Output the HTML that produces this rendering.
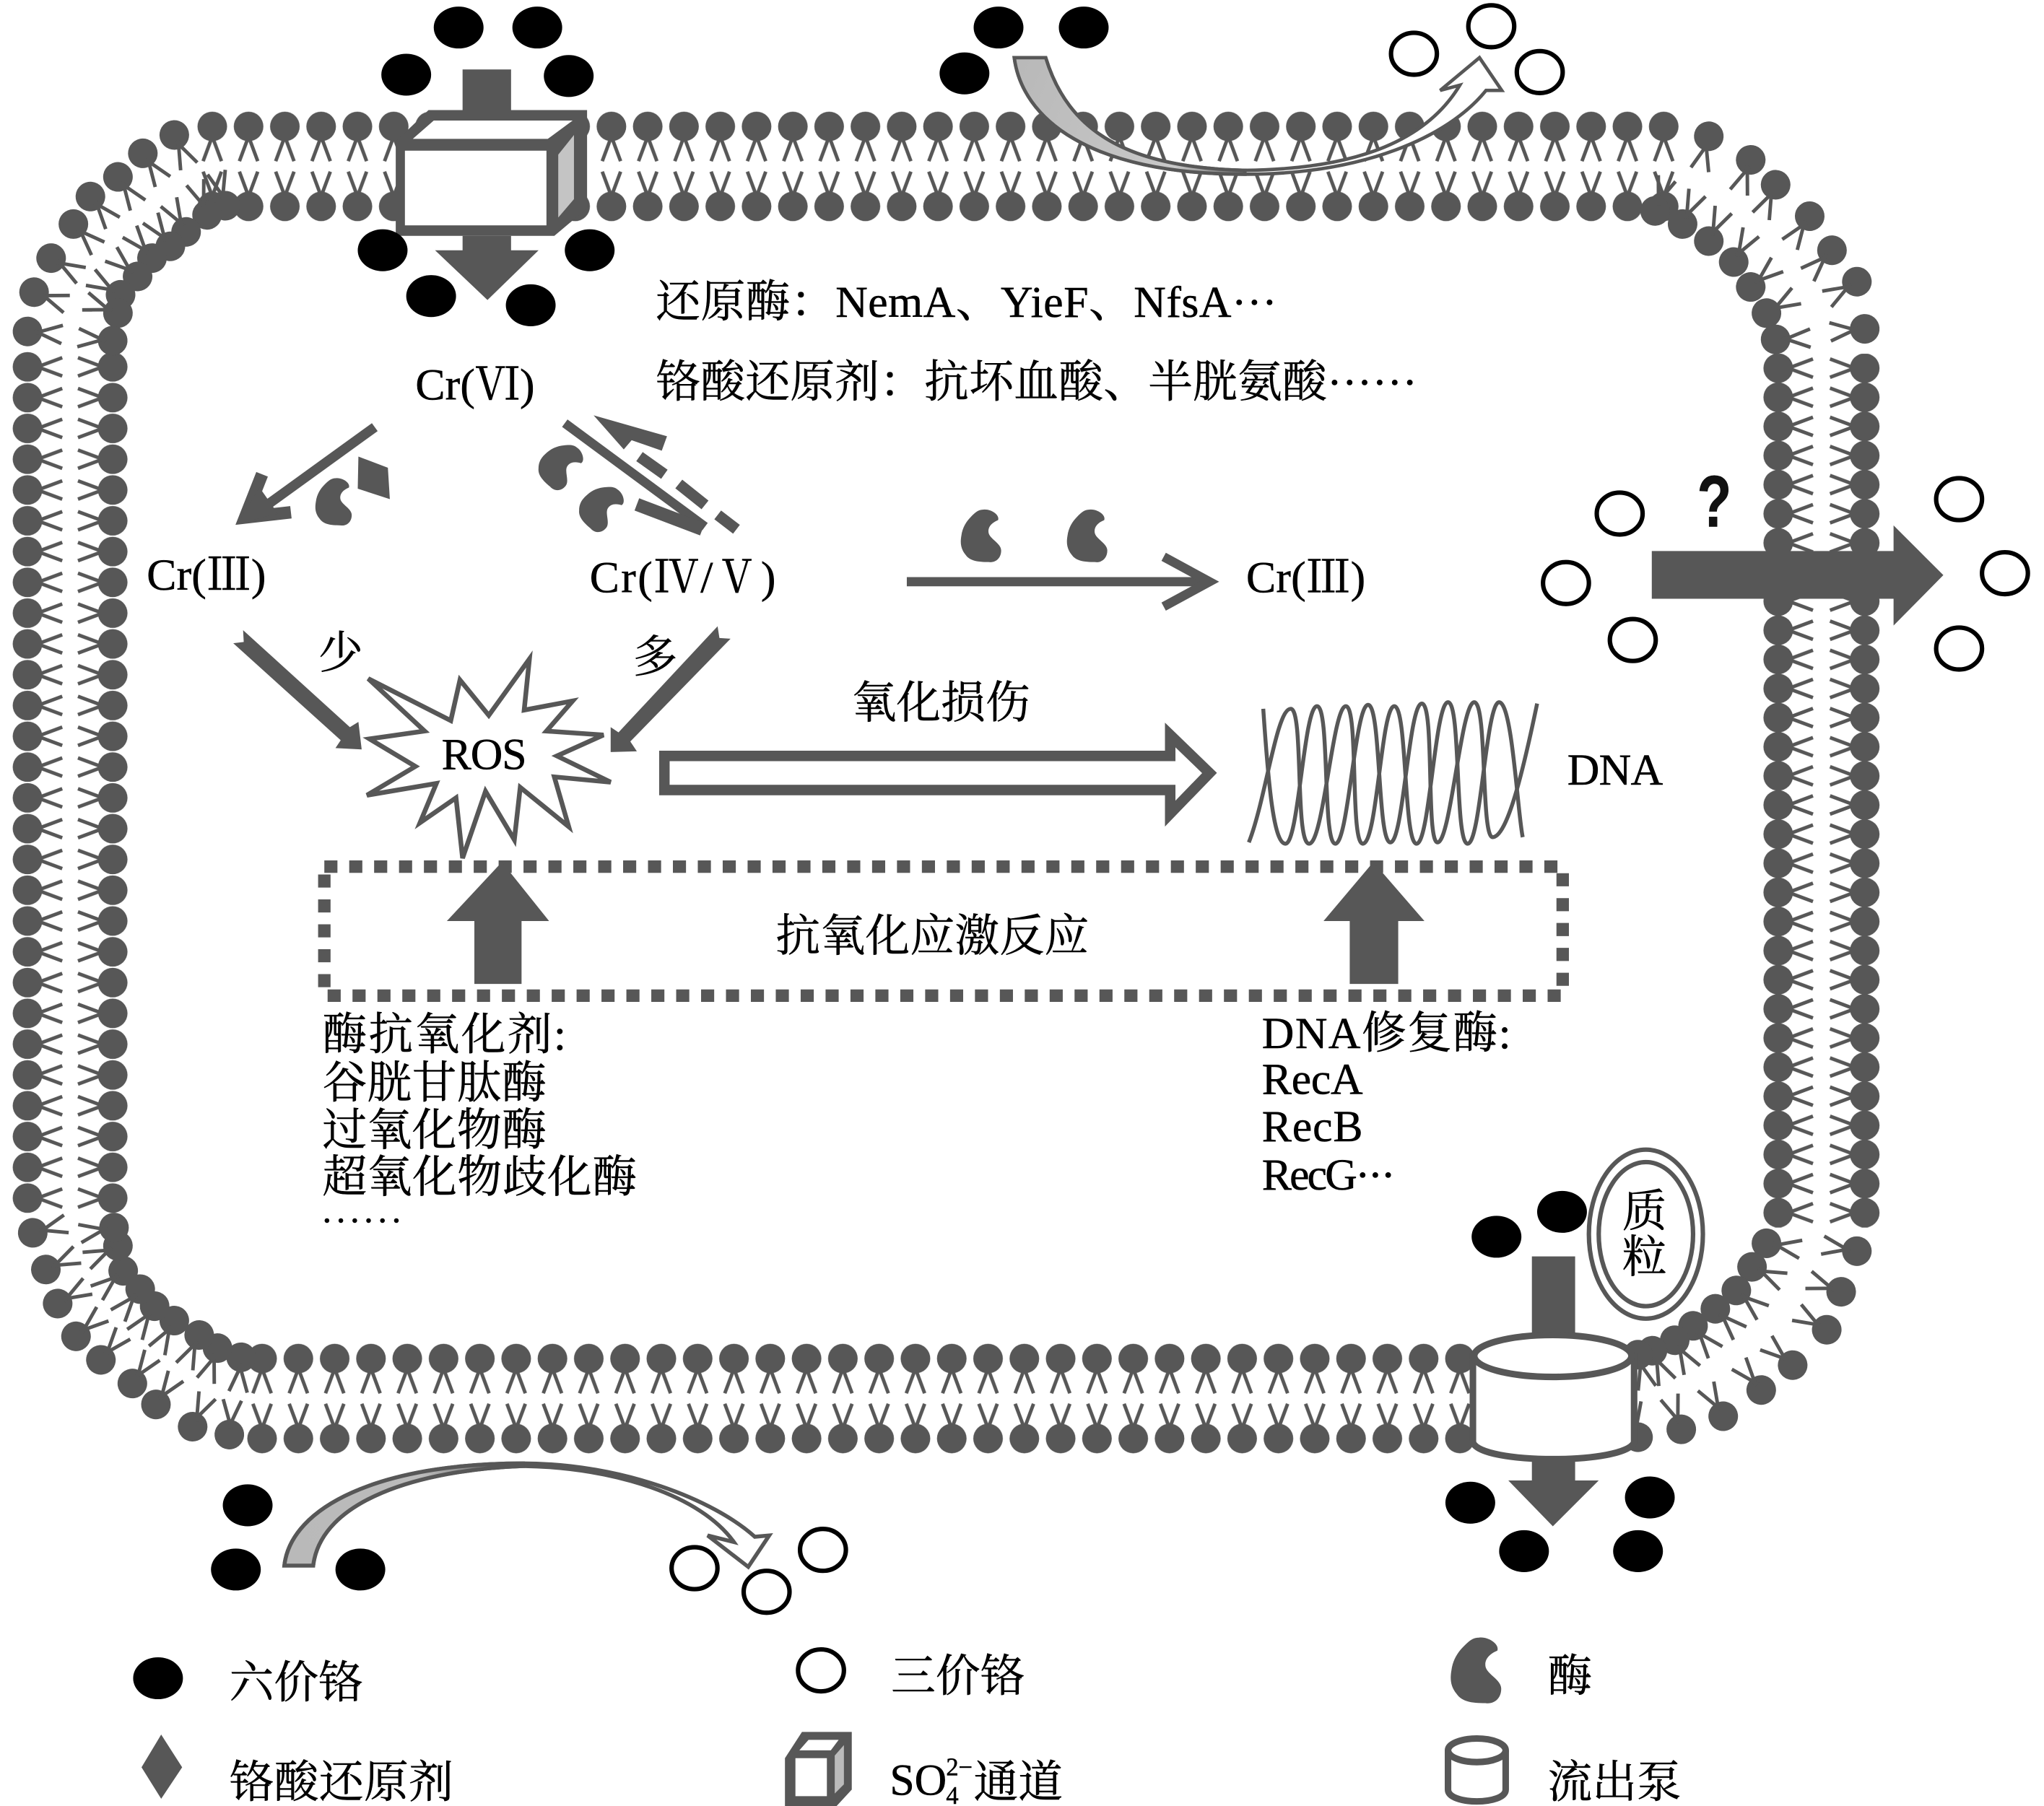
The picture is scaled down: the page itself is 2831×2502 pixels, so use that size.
<!DOCTYPE html>
<html lang="zh-CN"><head><meta charset="utf-8"><title>铬代谢示意图</title>
<style>
html,body{margin:0;padding:0;background:#fff}
svg{display:block;width:2831px;height:2502px}
text{font-family:"Liberation Serif","Noto Serif CJK SC",serif;font-size:34px;fill:#000;stroke:#000;stroke-width:.3}
</style></head><body>
<svg xmlns="http://www.w3.org/2000/svg" viewBox="0 0 1559.8 1378.5" width="2831" height="2502">
<defs>
<g id="L"><circle r="11.3" fill="#575757"/><path d="M-1,5 L7,26.5 M1,5 L-7,26.5" stroke="#575757" stroke-width="2.7" fill="none"/></g>
<g id="K"><ellipse rx="19" ry="16" fill="#000"/></g>
<g id="R"><ellipse rx="17.5" ry="16" fill="#fff" stroke="#000" stroke-width="3.4"/></g>
<path id="E" fill="#575757" d="M3,-25 C10,-26 19,-20 17,-15 C12,-13 7,-9 8,-3 C9,3 20,7 20,14 C20,22 14,26 8,25 C-2,25 -10,24 -14,18 C-19,12 -19,6 -18,0 C-17,-8 -13,-14 -9,-18 C-5,-22 -2,-25 3,-25 Z"/>
<pattern id="pT" patternUnits="userSpaceOnUse" x="148.15" y="80" width="27.69" height="100">
 <use href="#L" transform="translate(13.85 16.5)"/><use href="#L" transform="translate(13.85 77.5) rotate(180)"/></pattern>
<pattern id="pB" patternUnits="userSpaceOnUse" x="186.15" y="1020" width="27.7" height="100">
 <use href="#L" transform="translate(13.85 17)"/><use href="#L" transform="translate(13.85 78) rotate(180)"/></pattern>
<pattern id="pL" patternUnits="userSpaceOnUse" x="5" y="268.25" width="100" height="23.5">
 <use href="#L" transform="translate(16 11.75) rotate(-90)"/><use href="#L" transform="translate(81 11.75) rotate(90)"/></pattern>
<pattern id="pR" patternUnits="userSpaceOnUse" x="1340" y="269.9" width="100" height="22.23">
 <use href="#L" transform="translate(17 11.1) rotate(-90)"/><use href="#L" transform="translate(83 11.1) rotate(90)"/></pattern>
<linearGradient id="g1" gradientUnits="userSpaceOnUse" x1="780" y1="50" x2="960" y2="130"><stop offset="0" stop-color="#b9b9b9"/><stop offset=".7" stop-color="#c8c8c8"/><stop offset="1" stop-color="#555"/></linearGradient>
<linearGradient id="g2" gradientUnits="userSpaceOnUse" x1="225" y1="1190" x2="400" y2="1118"><stop offset="0" stop-color="#b9b9b9"/><stop offset=".6" stop-color="#bbb"/><stop offset="1" stop-color="#555"/></linearGradient>
</defs>
<rect width="1559.8" height="1378.5" fill="#fff"/>

<!-- membrane straight runs -->
<rect x="148" y="80" width="1134" height="100" fill="url(#pT)"/>
<rect x="186" y="1020" width="942" height="100" fill="url(#pB)"/>
<rect x="5" y="268" width="100" height="658" fill="url(#pL)"/>
<rect x="1340" y="270" width="100" height="667" fill="url(#pR)"/>

<!-- corners -->
<g>
<!-- TL outer -->
<use href="#L" transform="translate(133 103) rotate(-25)"/><use href="#L" transform="translate(109 117) rotate(-35)"/><use href="#L" transform="translate(90 135) rotate(-35)"/><use href="#L" transform="translate(69 150) rotate(-40)"/><use href="#L" transform="translate(56 171) rotate(-45)"/><use href="#L" transform="translate(39 197) rotate(-60)"/><use href="#L" transform="translate(26 223) rotate(-70)"/><use href="#L" transform="translate(21 253) rotate(-85)"/>
<!-- TL inner -->
<use href="#L" transform="translate(172 157) rotate(165)"/><use href="#L" transform="translate(158 164) rotate(160)"/><use href="#L" transform="translate(142 177) rotate(150)"/><use href="#L" transform="translate(130 188) rotate(145)"/><use href="#L" transform="translate(116 197) rotate(140)"/><use href="#L" transform="translate(105 211) rotate(130)"/><use href="#L" transform="translate(92 225) rotate(120)"/><use href="#L" transform="translate(90 239) rotate(110)"/><use href="#L" transform="translate(86 260) rotate(95)"/>
<!-- TR outer -->
<use href="#L" transform="translate(1304 104) rotate(15)"/><use href="#L" transform="translate(1336 122) rotate(20)"/><use href="#L" transform="translate(1355 141) rotate(25)"/><use href="#L" transform="translate(1381 165) rotate(35)"/><use href="#L" transform="translate(1398 191) rotate(45)"/><use href="#L" transform="translate(1417 215) rotate(60)"/><use href="#L" transform="translate(1423 251) rotate(85)"/>
<!-- TR inner -->
<use href="#L" transform="translate(1263 161) rotate(200)"/><use href="#L" transform="translate(1284 171) rotate(205)"/><use href="#L" transform="translate(1304 184) rotate(205)"/><use href="#L" transform="translate(1323 200) rotate(210)"/><use href="#L" transform="translate(1336 219) rotate(230)"/><use href="#L" transform="translate(1348 239) rotate(240)"/><use href="#L" transform="translate(1355 259) rotate(268)"/>
<!-- BL outer -->
<use href="#L" transform="translate(175 1095) rotate(185)"/><use href="#L" transform="translate(147 1089) rotate(205)"/><use href="#L" transform="translate(119 1072) rotate(215)"/><use href="#L" transform="translate(101 1056) rotate(215)"/><use href="#L" transform="translate(77 1038) rotate(220)"/><use href="#L" transform="translate(58 1020) rotate(230)"/><use href="#L" transform="translate(44 995) rotate(240)"/><use href="#L" transform="translate(35 969) rotate(245)"/><use href="#L" transform="translate(25 941) rotate(255)"/>
<!-- BL inner -->
<use href="#L" transform="translate(184 1036) rotate(5)"/><use href="#L" transform="translate(166 1029) rotate(20)"/><use href="#L" transform="translate(152 1019) rotate(25)"/><use href="#L" transform="translate(133 1008) rotate(30)"/><use href="#L" transform="translate(118 997) rotate(35)"/><use href="#L" transform="translate(107 984) rotate(40)"/><use href="#L" transform="translate(94 970) rotate(50)"/><use href="#L" transform="translate(90 951) rotate(65)"/><use href="#L" transform="translate(87 937) rotate(80)"/>
<!-- BR outer -->
<use href="#L" transform="translate(1417 955) rotate(100)"/><use href="#L" transform="translate(1405 986) rotate(110)"/><use href="#L" transform="translate(1394 1015) rotate(120)"/><use href="#L" transform="translate(1368 1042) rotate(130)"/><use href="#L" transform="translate(1344 1061) rotate(140)"/><use href="#L" transform="translate(1315 1081) rotate(150)"/><use href="#L" transform="translate(1283 1091) rotate(160)"/><use href="#L" transform="translate(1250 1097) rotate(170)"/>
<!-- BR inner -->
<use href="#L" transform="translate(1348 949) rotate(-80)"/><use href="#L" transform="translate(1337 967) rotate(-65)"/><use href="#L" transform="translate(1325 985) rotate(-50)"/><use href="#L" transform="translate(1309 999) rotate(-45)"/><use href="#L" transform="translate(1292 1012) rotate(-40)"/><use href="#L" transform="translate(1278 1023) rotate(-30)"/><use href="#L" transform="translate(1261 1031) rotate(-25)"/><use href="#L" transform="translate(1250 1034) rotate(-15)"/>
</g>

<!-- SO4 channel -->
<g>
<rect x="353" y="53" width="37" height="40" fill="#575757"/>
<polygon points="302,108 327,84 448,84 448,159 423,180 302,180" fill="#575757"/>
<rect x="309" y="115" width="108" height="57" fill="#fff"/>
<polygon points="315,106 331,92 437,92 418,106" fill="#fff"/>
<polygon points="426,118 438,103 438,152 426,166" fill="#c4c4c4"/>
<polygon points="353,180 390,180 390,191 411,191 372,229 332,191 353,191" fill="#575757"/>
</g>
<use href="#K" x="350" y="21"/><use href="#K" x="410" y="21"/><use href="#K" x="310" y="57"/><use href="#K" x="434" y="58"/>
<use href="#K" x="292" y="191"/><use href="#K" x="450" y="191"/><use href="#K" x="329" y="226"/><use href="#K" x="405" y="233"/>

<!-- top right curved arrow -->
<use href="#K" x="762" y="21"/><use href="#K" x="827" y="21"/><use href="#K" x="736" y="56"/>
<use href="#R" x="1079" y="41"/><use href="#R" x="1138" y="20"/><use href="#R" x="1175" y="55"/>
<path d="M774,44 C780,90 830,133 950,133 C1040,133 1105,105 1134,69 L1146,69 L1129,44 L1099,69 L1114,65 C1090,105 1040,129 950,130 C860,128 815,100 798,44 Z" fill="#fff" stroke="#575757" stroke-width="2.6"/>
<path d="M774,44 C780,90 830,133 950,133 L950,130 C860,128 815,100 798,44 Z" fill="url(#g1)" stroke="#575757" stroke-width="2.6"/>

<!-- bottom left curved arrow -->
<use href="#K" x="189" y="1149"/><use href="#K" x="180" y="1198"/><use href="#K" x="275" y="1198"/>
<use href="#R" x="530" y="1197"/><use href="#R" x="585" y="1215"/><use href="#R" x="628" y="1183"/>
<path d="M217,1195 C222,1150 290,1117 399,1117 C475,1117 545,1145 576,1173 L587,1172 L571,1196 L540,1172 L560,1177 C535,1142 470,1120 399,1119 C320,1122 245,1145 239,1195 Z" fill="#fff" stroke="#575757" stroke-width="3"/>
<path d="M217,1195 C222,1150 290,1117 399,1117 L399,1119 C320,1122 245,1145 239,1195 Z" fill="url(#g2)" stroke="#575757" stroke-width="3"/>

<!-- efflux pump -->
<rect x="1169" y="959" width="33" height="62" fill="#575757"/>
<path d="M1124,1035 V1101 C1130,1118 1240,1118 1247,1101 V1035 Z" fill="#fff" stroke="#575757" stroke-width="5"/>
<ellipse cx="1185" cy="1035" rx="60" ry="16" fill="#fff" stroke="#575757" stroke-width="5"/>
<polygon points="1169,1114 1202,1114 1202,1130 1220,1130 1185,1165 1151,1130 1169,1130" fill="#575757"/>
<use href="#K" x="1142" y="944"/><use href="#K" x="1192" y="925"/><use href="#K" x="1122" y="1147"/><use href="#K" x="1259" y="1143"/><use href="#K" x="1163" y="1184"/><use href="#K" x="1250" y="1184"/>
<ellipse cx="1256" cy="942" rx="43.5" ry="64.5" fill="#fff" stroke="#575757" stroke-width="3.4"/>
<ellipse cx="1256" cy="942" rx="36" ry="55" fill="#fff" stroke="#575757" stroke-width="3.4"/>
<text x="1238" y="936" textLength="34">质</text><text x="1238" y="971" textLength="34">粒</text>

<!-- right big arrow -->
<polygon points="1260.5,420.6 1445,420.6 1445,401 1483,439 1445,477.5 1445,457 1260.5,457" fill="#575757"/>
<use href="#R" x="1236" y="392"/><use href="#R" x="1195" y="445"/><use href="#R" x="1246" y="488.5"/><use href="#R" x="1495" y="381"/><use href="#R" x="1530" y="437.5"/><use href="#R" x="1495" y="495"/>
<text transform="translate(1295 402) scale(.8 1.03)" style="font-family:'Liberation Sans',sans-serif;font-weight:bold;font-size:54px;fill:#111">?</text>

<!-- Cr(VI) to Cr(III) arrow -->
<g fill="#575757" stroke="#575757">
<path d="M286,326 L192,394" stroke-width="7.5" fill="none"/>
<path d="M200,362 L187,395 L222,391" stroke-width="9.5" fill="none" stroke-linejoin="miter"/>
<polygon points="181,400 198,372 212,392" stroke="none"/>
<polygon points="273.5,348.5 296,357 297.5,381 273,373" stroke="none"/>
<!-- Cr(VI) to Cr(IV/V) -->
<path d="M431,323 L538,402" stroke-width="7" fill="none"/>
<path d="M486,385 L536,404" stroke-width="10" fill="none"/>
<polygon points="453,317 509,333 505,344 482,336 476,343" stroke="none"/>
<path d="M488,348.5 L507,362 M518,369.4 L538,385.4 M547.7,393 L562,404" stroke-width="8.5" fill="none"/>
<!-- horizontal arrow -->
<path d="M692,444 H920" stroke-width="7" fill="none"/>
<path d="M888,425 L923,444 L888,463" stroke-width="7" fill="none"/>
<!-- less / more arrows -->
<polygon stroke="none" points="185.5,481 267,555 273.5,551 276,572 256,571 260,565 178,491 186,490"/>
<polygon stroke="none" points="547.6,478 549,487 557.5,487.5 481,566 486,573.5 466,574 466,555 472,559"/>
</g>
<use href="#E" transform="translate(254 383) scale(.72)"/>
<use href="#E" transform="translate(427 354) rotate(40) scale(.72)"/>
<use href="#E" transform="translate(458 386) rotate(40) scale(.72)"/>
<use href="#E" transform="translate(748 409) scale(.8)"/>
<use href="#E" transform="translate(829 409) scale(.8)"/>

<!-- ROS -->
<polygon points="281,518 344,550 351,519 373,546 404,503 400,542 437,535 417,558 460.5,561 425,577 466,597 423,593 434,631 397,601 392.5,641 370.5,604 353,655 348,609 320.5,628 333,598 280,607 317,585 282,564 324,558" fill="#fff" stroke="#575757" stroke-width="3.6"/>
<text x="337" y="587" textLength="65">ROS</text>

<!-- oxidative damage hollow arrow -->
<path d="M507,577 H893 V561 L923,590 L893,621 V603 H507 Z" fill="#fff" stroke="#575757" stroke-width="8"/>

<!-- DNA -->
<g fill="none" stroke="#575757" stroke-width="3">
<path d="M953,643 C966,610 974,541 985,541 C995,541 988,644 999,644 C1010,644 1017,539 1027,539 C1037,539 1030,644 1040,644 C1051,644 1054,539 1064,539 C1074,539 1071,644 1081,644 C1091,644 1095,536 1105,536 C1115,536 1110,644 1120,644 C1130,644 1134,536 1144,536 C1154,536 1158,620 1162,639"/>
<path d="M964,541 C968,600 972,644 981,644 C991,644 995,539 1005,539 C1015,539 1009,644 1019,644 C1029,644 1034,538 1044,538 C1054,538 1051,643 1061,643 C1071,643 1075,537 1085,537 C1095,537 1088,643 1097,643 C1107,643 1115,536 1125,536 C1135,536 1130,639 1139,639 C1150,639 1162,590 1173,537"/>
</g>

<!-- dotted box and up arrows -->
<rect x="247.5" y="661.5" width="945" height="98.5" fill="none" stroke="#575757" stroke-width="9.5" stroke-dasharray="10 9"/>
<polygon points="362,751 398,751 398,703 419,703 383,658 341,703 362,703" fill="#575757"/>
<polygon points="1030,751 1067,751 1067,703 1087,703 1048,658 1010,703 1030,703" fill="#575757"/>

<!-- labels -->
<text x="500.5" y="242" textLength="474">还原酶：NemA、YieF、NfsA···</text>
<text x="500.5" y="303" textLength="581">铬酸还原剂：抗坏血酸、半胱氨酸······</text>
<text x="317" y="305" textLength="91">Cr(Ⅵ)</text>
<text x="112" y="450" textLength="91">Cr(Ⅲ)</text>
<text x="450" y="452" textLength="142">Cr(Ⅳ/Ⅴ)</text>
<text x="951" y="452" textLength="91">Cr(Ⅲ)</text>
<text x="243" y="510">少</text>
<text x="483" y="513">多</text>
<text x="650" y="548" textLength="136">氧化损伤</text>
<text x="1196" y="599" textLength="73">DNA</text>
<text x="592" y="726" textLength="239">抗氧化应激反应</text>
<text x="246" y="801" textLength="186">酶抗氧化剂:</text>
<text x="246" y="838" textLength="171">谷胱甘肽酶</text>
<text x="246" y="874" textLength="171">过氧化物酶</text>
<text x="246" y="910" textLength="240">超氧化物歧化酶</text>
<text x="246" y="933" textLength="60" style="font-size:28px">......</text>
<text x="963" y="800" textLength="190">DNA修复酶:</text>
<text x="963" y="835" textLength="77">RecA</text>
<text x="963" y="871" textLength="77">RecB</text>
<text x="963" y="908" textLength="102">RecG···</text>

<!-- legend -->
<use href="#K" x="120.6" y="1281"/>
<use href="#R" x="626.5" y="1275"/>
<use href="#E" transform="translate(1125.6 1275)"/>
<polygon points="123,1324 139,1349 123,1373 108,1349" fill="#575757"/>
<polygon points="599,1342 612,1322 650,1322 650,1366 638,1379 599,1379" fill="#575757"/>
<rect x="607" y="1342" width="24" height="29" fill="#fff"/>
<polygon points="610,1336 617,1328 640,1328 634,1336" fill="#fff"/>
<polygon points="637,1340 644,1332 644,1362 637,1369" fill="#bbb"/>
<path d="M1105,1336 V1366 C1105,1378 1149,1378 1149,1366 V1336" fill="#fff" stroke="#575757" stroke-width="5"/>
<ellipse cx="1127" cy="1336" rx="22" ry="9" fill="#fff" stroke="#575757" stroke-width="5"/>
<text x="175" y="1296" textLength="102">六价铬</text>
<text x="680" y="1291" textLength="102">三价铬</text>
<text x="1181" y="1291">酶</text>
<text x="175" y="1372" textLength="171">铬酸还原剂</text>
<text x="679" y="1370">SO</text>
<text x="722" y="1355" style="font-size:19px">2−</text>
<text x="722" y="1377" style="font-size:19px">4</text>
<text x="743" y="1372" textLength="68">通道</text>
<text x="1181" y="1372" textLength="102">流出泵</text>
</svg>
</body></html>
